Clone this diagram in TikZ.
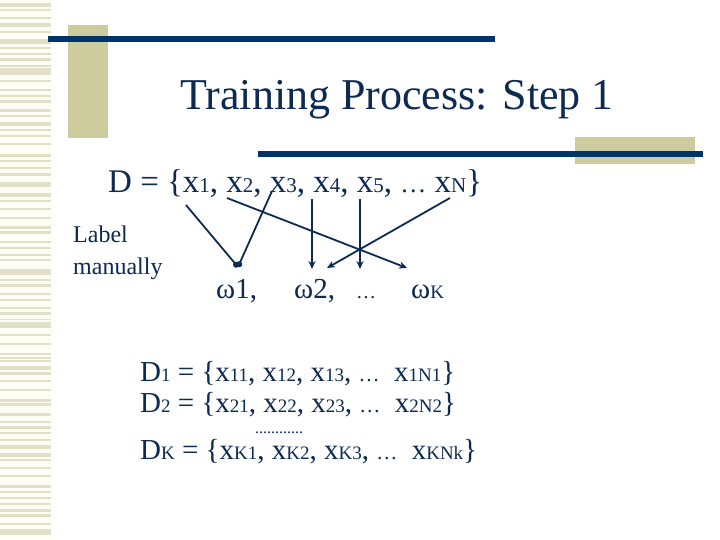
\documentclass[tikz,border=0pt]{standalone}
\usepackage{fontspec}
\setmainfont{Liberation Serif}
\usetikzlibrary{arrows.meta}
\definecolor{navy}{RGB}{12,42,82}
\definecolor{barblue}{RGB}{0,51,102}
\definecolor{khaki}{RGB}{204,204,158}
\definecolor{stripe}{RGB}{226,225,200}
\definecolor{stripbg}{RGB}{254,254,246}
\newcommand\szt[2]{{\fontsize{#1}{#1}\selectfont #2}}
\begin{document}
\begin{tikzpicture}[x=1pt,y=-1pt,
  txt/.style={text=navy, inner sep=0pt},
  conn/.style={draw=navy, line width=1.8pt, -{Stealth[length=8pt,width=7pt]}},
  dotconn/.style={draw=navy, line width=1.8pt, -{Circle[length=6pt]}}]
\useasboundingbox (0,0) rectangle (720,540);
\fill[white] (0,0) rectangle (720,540);
% left striped strip
\fill[stripbg] (0,0) rectangle (51,540);
\foreach \a/\b in {3/7,9/11,17/19,23/27,31/33,39/44,47/49,53/55,58/61,65/67,68/75,80/82,89/91,95/97,100/103,109/112,115/117,122/126,129/131,135/137,143/145,154/157,160/162,167/169,173/176,182/187,193/197,200/202,208/210,217/219,226/229,231/234,241/243,247/249,254/256,259/261,269/275,279/281,284/287,293/295,299/301,307/309,312/315,319/320,322/328,334/336,343/345,353/355,357/359,360/362,366/370,372/375,380/382,389/391,399/402,403/406,413/416,421/423,426/429,432/434,439/441,445/449,453/457,459/461,467/469,475/477,485/488,491/493,497/499,503/505,509/512,514/517,523/525,529/535}
  \fill[stripe] (0,\a) rectangle (51,\b);
% decorative blocks and bars
\fill[khaki] (68,25) rectangle (108,138);
\fill[barblue] (48,36) rectangle (495,42);
\fill[khaki] (575,137) rectangle (695,164);
\fill[barblue] (258,151) rectangle (703,157);
% title
\node[txt, anchor=base, font=\fontsize{44}{44}\selectfont] (title) at (397,110) {Training Process: Step 1};
% data set
\node[txt, anchor=base west, font=\fontsize{33}{33}\selectfont] (dset) at (108,193)
  {D = \{x\szt{21}{1}, x\szt{21}{2}, x\szt{21}{3}, x\szt{21}{4}, x\szt{21}{5}, \szt{26}{…} x\szt{21}{N}\}};
% label manually
\node[txt, anchor=base west, font=\fontsize{24}{24}\selectfont] (lab1) at (73,242) {Label};
\node[txt, anchor=base west, font=\fontsize{24}{24}\selectfont] (lab2) at (73,274) {manually};
% classes
\node[txt, anchor=base west, font=\fontsize{29}{29}\selectfont] (w1) at (216,298) {ω1,};
\node[txt, anchor=base west, font=\fontsize{29}{29}\selectfont] (w2) at (294,298) {ω2,};
\node[txt, anchor=base west, font=\fontsize{29}{29}\selectfont] (wd) at (356,298) {\szt{20}{…}};
\node[txt, anchor=base west, font=\fontsize{29}{29}\selectfont] (wk) at (411,298) {ω\szt{19}{K}};
% connector ends
\coordinate (s1) at (186,205);
\coordinate (s3) at (272,191);
\coordinate (s2) at (227,198);
\coordinate (s4) at (312,199);
\coordinate (s5) at (360,199);
\coordinate (sn) at (450,198);
\coordinate (e1) at (238,267);
\coordinate (ek) at (407,268);
\coordinate (e4) at (312,269);
\coordinate (e5) at (360,269);
\coordinate (e2) at (327,268);
\draw[dotconn] (s1) -- (e1);
\draw[dotconn] (s3) -- (e1);
\draw[conn] (s2) -- (ek);
\draw[conn] (s4) -- (e4);
\draw[conn] (s5) -- (e5);
\draw[conn] (sn) -- (e2);
% subsets
\node[txt, anchor=base west, font=\fontsize{29}{29}\selectfont] (d1) at (140,381)
  {D\szt{19}{1} = \{x\szt{19}{11}, x\szt{19}{12}, x\szt{19}{13}, \szt{21}{…}\ \ x\szt{19}{1N1}\}};
\node[txt, anchor=base west, font=\fontsize{29}{29}\selectfont] (d2) at (140,412)
  {D\szt{19}{2} = \{x\szt{19}{21}, x\szt{19}{22}, x\szt{19}{23}, \szt{21}{…}\ \ x\szt{19}{2N2}\}};
\node[txt, anchor=base, font=\fontsize{16}{16}\selectfont] (dots) at (279,433) {............};
\node[txt, anchor=base west, font=\fontsize{29}{29}\selectfont] (dk) at (140,459)
  {D\szt{19}{K} = \{x\szt{19}{K1}, x\szt{19}{K2}, x\szt{19}{K3}, \szt{21}{…}\ \ x\szt{19}{KNk}\}};
\end{tikzpicture}
\end{document}
